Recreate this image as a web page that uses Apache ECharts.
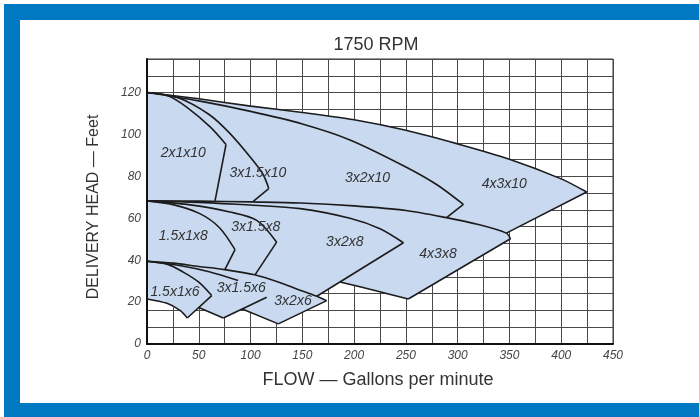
<!DOCTYPE html>
<html><head><meta charset="utf-8">
<script src="https://cdn.jsdelivr.net/npm/echarts@6/dist/echarts.min.js"></script>
<style>html,body{margin:0;padding:0;background:#fff}#c{width:699px;height:417px}</style>
</head><body><div id="c"></div>
<script>
// ---- tick labels ----
const xTickLabels = [0,50,100,150,200,250,300,350,400,450];
const yTickLabels = [0,20,40,60,80,100,120];

// ---- 10-inch family (flow gpm, head ft) ----
const curve_4x3x10 = [[0,120],[50,117],[100,113.5],[150,110.5],[200,107],[250,102],[300,95.5],[350,88.2],[400,78.8],[424.6,72.5]];
const tip_4x3x10 = [[424.6,72.5],[347,52.9]];
const curve_3x2x10 = [[0,120],[50,116],[100,111],[150,105],[196,97.4],[250,84.5],[280,76],[305.5,66.6]];
const tip_3x2x10 = [[305.5,66.6],[289.3,60.3]];
const curve_3x15x10 = [[0,120],[30,117.5],[60,109.5],[80,100.5],[100,89],[112,81],[117.6,74.2]];
const tip_3x15x10 = [[117.6,74.2],[102.6,68.1]];
const curve_2x1x10 = [[0,120],[20,118.5],[38,113.2],[61,103.6],[76.3,95.2]];
const tip_2x1x10 = [[76.3,95.2],[65.7,68.3]];

// ---- 8-inch family ----
const curve_4x3x8 = [[0,68.3],[50,68.2],[100,67.8],[148,67.3],[200,65.9],[250,63.7],[289,60.3],[320,57],[347,52.9],[351,50.2]];
const tip_4x3x8 = [[351,50.2],[252.3,21.5]];
const base_4x3x8 = [[252.3,21.5],[222,25.3],[186.4,29.6]];
const curve_3x2x8 = [[0,68.3],[50,67.6],[100,66.3],[148,64.6],[196,60],[225,55],[247.6,48.3]];
const tip_3x2x8 = [[247.6,48.3],[164,22.8]];
const curve_3x15x8 = [[0,68.3],[40,66.5],[80,63],[106,59],[125.2,48.6]];
const tip_3x15x8 = [[125.2,48.6],[104.3,33]];
const curve_15x1x8 = [[0,68.3],[25,66.5],[51,62.2],[70,55.5],[85,45]];
const tip_15x1x8 = [[85,45],[75.3,35.6]];

// ---- 6-inch family ----
const curve_3x2x6 = [[0,39.5],[25,38.6],[50,37],[75,35.5],[104,33],[130,29],[150,25.3],[164,22.8],[173.5,20.7]];
const tip_3x2x6 = [[173.5,20.7],[126.8,9.6]];
const base_3x2x6 = [[126.8,9.6],[92,16.7]];
const curve_3x15x6 = [[0,39.5],[30,37.6],[60,34.5],[88,30.3]];
const tip_3x15x6 = [[115.6,22.3],[73.7,12.4]];
const base_3x15x6 = [[73.7,12.4],[50,17.4]];
const curve_15x1x6 = [[0,39.5],[20,38],[35,34.3],[50,29.5],[62.5,23.1]];
const tip_15x1x6 = [[62.5,23.1],[38.9,12.4]];
const base_15x1x6 = [[38.9,12.4],[32.2,15.9],[19.3,19.4],[0,21.5]];

// ---- region labels ----
const regionNames = ['2x1x10','3x1.5x10','3x2x10','4x3x10','1.5x1x8','3x1.5x8','3x2x8','4x3x8','1.5x1x6','3x1.5x6','3x2x6'];
const regionLabelAt = [[35,91],[107,81.5],[213,79],[345,76.2],[35,51.3],[105,55.6],[191,48.4],[281,42.7],[27,24.6],[91,26.5],[141,20.7]];

// ---- build fill polygons from the arrays ----
const fill10 = [...curve_4x3x10, tip_4x3x10[1], ...curve_4x3x8.filter(p => p[0] < tip_4x3x10[1][0]).reverse()];
const fill8 = [...curve_4x3x8, ...tip_4x3x8.slice(1), ...base_4x3x8.slice(1), tip_3x2x8[1],
  ...curve_3x2x6.filter(p => p[0] < tip_3x2x8[1][0]).reverse()];
const fill6 = [...curve_3x2x6, ...tip_3x2x6.slice(1), ...base_3x2x6.slice(1), tip_3x15x6[1],
  ...base_3x15x6.slice(1), tip_15x1x6[1], ...base_15x1x6.slice(1)];

const FILL = '#c9d9f0';
const LINE = '#1c1c1c';
const FONT = "'Liberation Sans', Arial, sans-serif";

function polySeries(pts) {
  return {
    type: 'custom', xAxisIndex: 0, yAxisIndex: 0, z: 2, silent: true, clip: false,
    data: pts,
    renderItem: (params, api) => {
      if (params.dataIndex !== 0) return null;
      return { type: 'polygon', shape: { points: pts.map(p => api.coord(p)) },
        style: { fill: FILL, stroke: FILL, lineWidth: 0.6 } };
    }
  };
}
function lineSeries(pts, smooth) {
  return { type: 'line', xAxisIndex: 0, yAxisIndex: 0, z: 3, data: pts, showSymbol: false, symbol: 'none',
    smooth: smooth ? 0.3 : false, silent: true, lineStyle: { color: LINE, width: 1.6 } };
}

const curves = [curve_4x3x10, curve_3x2x10, curve_3x15x10, curve_2x1x10,
  curve_4x3x8, curve_3x2x8, curve_3x15x8, curve_15x1x8,
  curve_3x2x6, curve_3x15x6, curve_15x1x6, base_15x1x6, base_4x3x8];
const straights = [tip_4x3x10, tip_3x2x10, tip_3x15x10, tip_2x1x10,
  tip_4x3x8, tip_3x2x8, tip_3x15x8, tip_15x1x8,
  tip_3x2x6, base_3x2x6, tip_3x15x6, base_3x15x6, tip_15x1x6];

const series = [polySeries(fill10), polySeries(fill8), polySeries(fill6)];
curves.forEach(c => series.push(lineSeries(c, true)));
straights.forEach(c => series.push(lineSeries(c, false)));
series.push({
  type: 'custom', xAxisIndex: 0, yAxisIndex: 0, z: 4, silent: true,
  data: regionLabelAt.map((p, i) => [p[0], p[1], i]),
  renderItem: (params, api) => {
    const c = api.coord([api.value(0), api.value(1)]);
    return { type: 'text', x: c[0], y: c[1],
      style: { text: regionNames[api.value(2)], textAlign: 'center', textVerticalAlign: 'middle',
        font: 'italic 14px ' + FONT, fill: '#333' } };
  }
});

const chart = echarts.init(document.getElementById('c'), null, { renderer: 'canvas' });
chart.setOption({
  animation: false,
  backgroundColor: '#fff',
  grid: { left: 147, top: 59, width: 466, height: 285, show: true, borderColor: '#333', borderWidth: 1, backgroundColor: '#fff' },
  xAxis: [
    { type: 'value', min: 0, max: 450, interval: 25, z: 0,
      axisLine: { show: false }, axisTick: { show: false }, axisLabel: { show: false },
      splitLine: { show: true, lineStyle: { color: '#4a4a4a', width: 1 } } },
    { type: 'value', min: 0, max: 450, interval: 50, z: 10, position: 'bottom',
      axisLine: { show: true, lineStyle: { color: '#111', width: 2 } }, axisTick: { show: false },
      axisLabel: { show: true, margin: 6, color: '#444', fontStyle: 'italic', fontSize: 12, fontFamily: FONT,
        formatter: v => xTickLabels.includes(v) ? String(v) : '' },
      splitLine: { show: false } }
  ],
  yAxis: [
    { type: 'value', min: 0, max: 136, interval: 8, z: 0,
      axisLine: { show: false }, axisTick: { show: false }, axisLabel: { show: false },
      splitLine: { show: true, lineStyle: { color: '#4a4a4a', width: 1 } } },
    { type: 'value', min: 0, max: 136, interval: 20, z: 10, position: 'left',
      axisLine: { show: true, lineStyle: { color: '#111', width: 2 } }, axisTick: { show: false },
      axisLabel: { show: true, margin: 6, color: '#444', fontStyle: 'italic', fontSize: 12, fontFamily: FONT,
        showMaxLabel: false, formatter: v => yTickLabels.includes(v) ? String(v) : '' },
      splitLine: { show: false } }
  ],
  graphic: [
    { type: 'rect', shape: { x: 4, y: 4, width: 695, height: 16 }, style: { fill: '#0079c2' } },
    { type: 'rect', shape: { x: 4, y: 4, width: 16, height: 413 }, style: { fill: '#0079c2' } },
    { type: 'rect', shape: { x: 4, y: 403, width: 695, height: 14 }, style: { fill: '#0079c2' } },
    { type: 'text', x: 376, y: 45, style: { text: '1750 RPM', textAlign: 'center', textVerticalAlign: 'middle', font: '18px ' + FONT, fill: '#333' } },
    { type: 'text', x: 378, y: 380, style: { text: 'FLOW — Gallons per minute', textAlign: 'center', textVerticalAlign: 'middle', font: '18px ' + FONT, fill: '#333' } },
    { type: 'text', x: 94, y: 207, rotation: Math.PI / 2, style: { text: 'DELIVERY HEAD — Feet', textAlign: 'center', textVerticalAlign: 'middle', font: '16px ' + FONT, fill: '#333' } }
  ],
  series: series
});
</script></body></html>
